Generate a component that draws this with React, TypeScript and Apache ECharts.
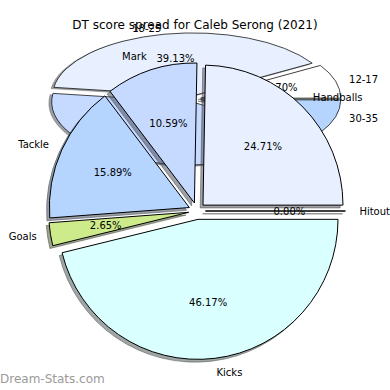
import React, { useEffect, useRef } from "react";
import * as echarts from "echarts";

const TITLE = "DT score spread for Caleb Serong (2021)";
const WATERMARK = "Dream-Stats.com";

// Front pie: DT points by stat type (counter-clockwise from 3 o'clock)
const statNames = ["Hitout", "Handballs", "Mark", "Tackle", "Goals", "Kicks"];
const statPoints = [0, 448, 192, 288, 48, 837];
const statColors = ["#FFFFFF", "#E8F0FF", "#C6D9FF", "#B5D5FF", "#CDEB8B", "#D9FFFF"];

// Back (stretched) pie: games per score range
const rangeNames = ["12-17", "18-25", "26-29", "30-35"];
const rangeGames = [2, 9, 10, 2];
const rangeColors = ["#FFFFFF", "#E8F0FF", "#C6D9FF", "#B5D5FF"];

const FONT = '10px "DejaVu Sans", sans-serif';

type Geom = { cx: number; cy: number; rx: number; ry: number; explode: number };

function shade(hex: string): string {
  const n = parseInt(hex.slice(1), 16);
  const r = Math.round(((n >> 16) & 255) * 0.3);
  const g = Math.round(((n >> 8) & 255) * 0.3);
  const b = Math.round((n & 255) * 0.3);
  return `rgba(${r},${g},${b},0.5)`;
}

function pieSeries(names: string[], values: number[], colors: string[], g: Geom, z: number) {
  const total = values.reduce((a, b) => a + b, 0);
  const starts: number[] = [];
  let acc = 0;
  values.forEach((v) => {
    starts.push(acc);
    acc += v;
  });
  return {
    type: "custom",
    coordinateSystem: "none",
    z,
    silent: true,
    data: values.map((v) => [v]),
    renderItem: (params: any, api: any) => {
      const i = params.dataIndex;
      const v = api.value(0);
      const t1 = (starts[i] / total) * Math.PI * 2;
      const t2 = ((starts[i] + v) / total) * Math.PI * 2;
      const m = (t1 + t2) / 2;
      const r = g.rx;
      const k = g.ry / g.rx;
      const ox = g.explode * r * Math.cos(m);
      const oy = -g.explode * r * Math.sin(m);
      const sd = 0.02 * r;
      const shadowCol = shade(colors[i]);
      const sector = (dx: number, dy: number, fill: string, stroke: string, z2: number) => ({
        type: "sector",
        z2,
        shape: { cx: ox + dx, cy: oy + dy, r, r0: 0, startAngle: -t2, endAngle: -t1, clockwise: true },
        style: { fill, stroke, lineWidth: 1, strokeNoScale: true },
      });
      const lx = g.cx + ox + 1.1 * r * Math.cos(m);
      const ly = g.cy + (oy - 1.1 * r * Math.sin(m)) * k;
      const px = g.cx + ox + 0.6 * r * Math.cos(m);
      const py = g.cy + (oy - 0.6 * r * Math.sin(m)) * k;
      const pct = ((v / total) * 100).toFixed(2) + "%";
      return {
        type: "group",
        children: [
          {
            type: "group",
            x: g.cx,
            y: g.cy,
            scaleY: k,
            children: [sector(-sd, sd, shadowCol, shadowCol, 0), sector(0, 0, colors[i], "#000", 10)],
          },
          {
            type: "text",
            z2: 100,
            x: lx,
            y: ly,
            style: {
              text: names[i],
              fill: "#000",
              font: FONT,
              textAlign: Math.cos(m) >= 0 ? "left" : "right",
              textVerticalAlign: "middle",
            },
          },
          {
            type: "text",
            z2: 100,
            x: px,
            y: py,
            style: { text: pct, fill: "#000", font: FONT, textAlign: "center", textVerticalAlign: "middle" },
          },
        ],
      };
    },
  };
}

export default function App() {
  const ref = useRef<HTMLDivElement>(null);
  useEffect(() => {
    if (!ref.current) return;
    const chart = echarts.init(ref.current, undefined, { renderer: "svg" });
    chart.setOption({
      animation: false,
      backgroundColor: "#fff",
      title: {
        text: TITLE,
        left: "center",
        top: 19,
        padding: 0,
        z: 10,
        textStyle: { fontSize: 12, fontWeight: "normal", color: "#000", fontFamily: "DejaVu Sans" },
      },
      graphic: [
        {
          type: "text",
          left: 0,
          top: 373,
          z: 10,
          style: { text: WATERMARK, fill: "#9a9a9a", font: '12px "DejaVu Sans", sans-serif' },
        },
      ],
      series: [
        pieSeries(rangeNames, rangeGames, rangeColors, { cx: 194, cy: 99, rx: 140, ry: 63, explode: 0.05 }, 1),
        pieSeries(statNames, statPoints, statColors, { cx: 197, cy: 211, rx: 140, ry: 140, explode: 0.06 }, 2),
      ],
    });
    return () => chart.dispose();
  }, []);
  return <div ref={ref} style={{ position: "absolute", left: 0, top: 0, width: 390, height: 390 }} />;
}
